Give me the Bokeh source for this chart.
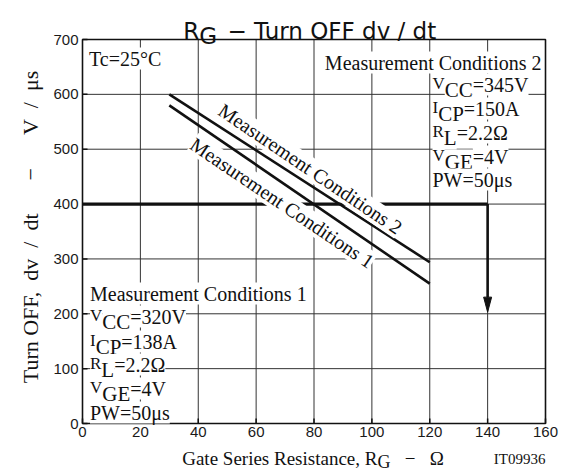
import math
from bokeh.plotting import figure
from bokeh.models import Label
from bokeh.embed import file_html
from bokeh.resources import INLINE
from bokeh.core.properties import value

# ---------------- data ----------------
x_ticks = [0, 20, 40, 60, 80, 100, 120, 140, 160]
y_ticks = [0, 100, 200, 300, 400, 500, 600, 700]
x_tick_labels = [str(v) for v in x_ticks]
y_tick_labels = [str(v) for v in y_ticks]

rg_cond1 = [30, 120]
dvdt_cond1 = [580, 255]
rg_cond2 = [30, 120]
dvdt_cond2 = [600, 294]

ref_dvdt = 400      # horizontal reading line
ref_rg = 140        # reading position
arrow_tip = 203     # arrow end value

cond1_lines = [("V", "CC", "=320V"), ("I", "CP", "=138A"), ("R", "L", "=2.2Ω"),
               ("V", "GE", "=4V")]
cond2_lines = [("V", "CC", "=345V"), ("I", "CP", "=150A"), ("R", "L", "=2.2Ω"),
               ("V", "GE", "=4V")]

# ---------------- layout (canvas pixels) ----------------
W, H = 562, 472
L, R, T, B = 82, 545, 39, 423   # plot frame on the canvas
X0, X1 = x_ticks[0], x_ticks[-1]
Y0, Y1 = y_ticks[0], y_ticks[-1]
SX = (R - L) / (X1 - X0)
SY = (B - T) / (Y1 - Y0)


def dx(px):
    return X0 + (px - L) / SX


def dy(py):
    return Y1 - (py - T) / SY


p = figure(width=W, height=H,
           x_range=(dx(0), dx(W)), y_range=(dy(H), dy(0)),
           x_axis_type=None, y_axis_type=None,
           output_backend="svg", toolbar_location=None, min_border=0)
p.background_fill_color = "white"
p.border_fill_color = "white"
p.outline_line_color = None
p.grid.visible = False

INK = "#111111"

# grid
p.segment(x0=x_ticks, y0=[Y0] * len(x_ticks), x1=x_ticks, y1=[Y1] * len(x_ticks),
          line_color="#333333", line_width=1)
p.segment(x0=[X0] * len(y_ticks), y0=y_ticks, x1=[X1] * len(y_ticks), y1=y_ticks,
          line_color="#333333", line_width=1)

# inner ticks (bottom & left)
tick_dy = 5 / SY
tick_dx = 5 / SX
p.segment(x0=x_ticks, y0=[Y0] * len(x_ticks), x1=x_ticks, y1=[Y0 + tick_dy] * len(x_ticks),
          line_color=INK, line_width=1.5)
p.segment(x0=[X0] * len(y_ticks), y0=y_ticks, x1=[X0 + tick_dx] * len(y_ticks), y1=y_ticks,
          line_color=INK, line_width=1.5)

# tick labels
p.text(x=x_ticks, y=[Y0] * len(x_ticks), text=x_tick_labels, text_align="center",
       text_baseline="top", y_offset=3, text_font=value("Liberation Sans"),
       text_font_size="15px", text_color="#1a1a1a")
p.text(x=[X0] * len(y_ticks), y=y_ticks, text=y_tick_labels, text_align="right",
       text_baseline="middle", x_offset=-4, text_font=value("Liberation Sans"),
       text_font_size="15px", text_color="#1a1a1a")

# ---------------- curves ----------------
p.line(rg_cond1, dvdt_cond1, line_width=2.6, line_color=INK)
p.line(rg_cond2, dvdt_cond2, line_width=2.6, line_color=INK)

head_len = 15 / SY
head_hw = 4 / SX
head_base = arrow_tip + head_len
p.line([X0, ref_rg], [ref_dvdt, ref_dvdt], line_width=3.2, line_color=INK)
p.line([ref_rg, ref_rg], [ref_dvdt, head_base], line_width=2.6, line_color=INK)
p.patch([ref_rg - head_hw, ref_rg + head_hw, ref_rg], [head_base, head_base, arrow_tip],
        fill_color=INK, line_color=INK)

# frame
p.quad(left=[X0], right=[X1], bottom=[Y0], top=[Y1], fill_color=None,
       line_color=INK, line_width=1.6)

# ---------------- text ----------------
SERIF = "Liberation Serif"
SANS = "DejaVu Sans"
TNR = {"V": .722, "I": .333, "R": .667, "C": .667, "P": .556, "L": .611,
       "G": .722, "E": .611}
NB = "\u00a0"
XLAB_MAIN_EM = 9.609 + 0.667   # "Gate Series Resistance, R" in Times metrics


def tw(s, size, table=TNR):
    return sum(table[c] for c in s) * size


def lab(xp, yp, text, size, font=SERIF, align="left", baseline="alphabetic",
        angle=0.0, bg=True, color=INK):
    kw = dict(x=dx(xp), y=dy(yp), text=text, text_font=font,
              text_font_size=f"{size}px", text_align=align,
              text_baseline=baseline, angle=angle, text_color=color)
    if bg:
        kw.update(background_fill_color="white", background_fill_alpha=1.0)
    p.add_layout(Label(**kw))


def param(xp, yp, main, sub, rest):
    lab(xp, yp - 1, main, 17)
    w1 = tw(main, 17)
    lab(xp + w1, yp + 5, sub, 21)
    w2 = tw(sub, 21)
    lab(xp + w1 + w2, yp, rest, 20)


# title
lab(182.8, 30.5, "R", 23, font=SANS, bg=False)
lab(182.8 + 0.695 * 23, 35.8, "G", 23, font=SANS, bg=False)
lab(227, 30.5, "−" + NB + "Turn OFF dv / dt", 23, font=SANS, bg=False)

# x label
lab(181.7, 458, "Gate Series Resistance, R", 19, bg=False)
gx = 181.7 + XLAB_MAIN_EM * 19
lab(gx, 461, "G", 18, bg=False)
lab(gx + tw("G", 18), 458, NB * 3 + "−" + NB * 3 + "Ω", 19, bg=False)
lab(545, 458, "IT09936", 15, align="right", bg=False)

# y label
ylab = ("Turn" + NB + "OFF," + NB * 2 + "dv" + NB * 2 + "/" + NB * 2 + "dt" + NB * 6 + "−"
        + NB * 6 + "V" + NB * 2 + "/" + NB * 2 + "μs")
lab(30, 226.5, ylab, 22, align="center", baseline="middle", angle=math.pi / 2, bg=False)

# inside annotations
lab(88.5, 58, "Tc=25°C", 20)

lab(541, 62, "Measurement Conditions 2", 20, align="right")
for (m, s, r), yb in zip(cond2_lines, [84, 108, 132, 156]):
    param(432, yb, m, s, r)
lab(432, 179, "PW=50μs", 20)

lab(89.5, 293, "Measurement Conditions 1", 20)
for (m, s, r), yb in zip(cond1_lines, [316, 341, 364, 388]):
    param(89.5, yb, m, s, r)
lab(89.5, 412, "PW=50μs", 20)

ang = -math.radians(34)
lab(310, 168.3, "Measurement Conditions 2", 20, align="center", baseline="middle", angle=ang)
lab(281.7, 202.3, "Measurement Conditions 1", 20, align="center", baseline="middle", angle=ang)

open("out.html", "w").write(file_html(p, INLINE))
